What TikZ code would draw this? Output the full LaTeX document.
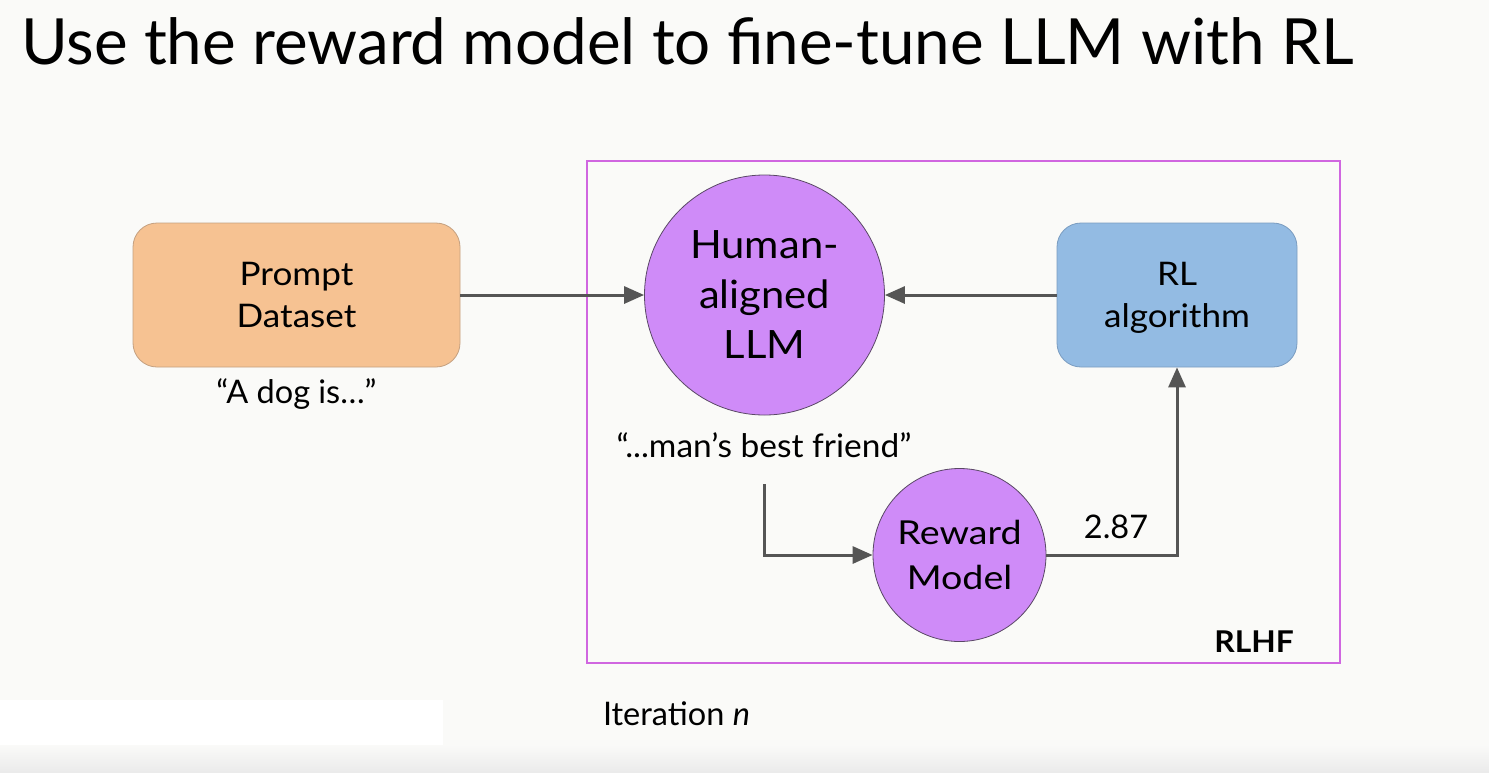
\documentclass[tikz,border=0pt]{standalone}
\usepackage{fontspec}
\setmainfont{Lato}
\newfontfamily\latoBox[FakeStretch=1.08]{Lato}
\newfontfamily\latoLLM[FakeStretch=1.07]{Lato}
\newfontfamily\latoRM[FakeStretch=1.14]{Lato}
\newfontfamily\latoResp[FakeStretch=1.03]{Lato}
\newfontfamily\latoTag[FakeStretch=1.06]{Lato}
\usetikzlibrary{arrows.meta}
\definecolor{bgc}{RGB}{250,250,248}
\definecolor{orangefill}{RGB}{246,194,146}
\definecolor{orangeedge}{RGB}{196,160,128}
\definecolor{purplefill}{RGB}{207,139,248}
\definecolor{purpleedge}{RGB}{90,72,102}
\definecolor{bluefill}{RGB}{147,187,227}
\definecolor{blueedge}{RGB}{122,156,192}
\definecolor{framec}{RGB}{208,102,224}
\definecolor{arrowc}{RGB}{85,85,85}
\tikzset{
  boxnode/.style={rounded corners=24pt, minimum width=327pt, minimum height=144pt, line width=0.8pt, align=center, font=\latoBox\fontsize{32.5}{42}\selectfont, inner sep=0pt},
  circnode/.style={circle, fill=purplefill, draw=purpleedge, line width=0.8pt, align=center, inner sep=0pt},
  flow/.style={draw=arrowc, line width=3pt, -{Triangle[length=20pt,width=17pt]}},
  plaintext/.style={font=\fontsize{32.5}{40}\selectfont, inner sep=0pt}
}
\begin{document}
\begin{tikzpicture}[x=1pt,y=-1pt]
\useasboundingbox (0,0) rectangle (1489,772);
\fill[bgc] (0,0) rectangle (1489,772);
\fill[white] (0,700) rectangle (443,772);
\shade[top color=bgc, bottom color=black!8] (0,745) rectangle (1489,772);
% title
\node[anchor=base west, inner sep=0pt, font=\fontsize{63.7}{70}\selectfont] (title) at (21,64) {Use the reward model to fine-tune LLM with RL};
% frame
\draw[framec, line width=2pt] (587,161) rectangle (1340,663);
\node[anchor=base east, inner sep=0pt, font=\latoTag\fontsize{30}{36}\selectfont\bfseries] (rlhf) at (1294,652) {RLHF};
% nodes
\node[boxnode, fill=orangefill, draw=orangeedge] (prompt) at (296.5,295) {Prompt\\Dataset};
\node[plaintext, anchor=base] (dog) at (296.5,403) {“A dog is…”};
\node[circnode, minimum size=240pt, font=\latoLLM\fontsize{39}{50}\selectfont] (llm) at (764.5,295) {Human-\\aligned\\LLM};
\node[boxnode, minimum width=240pt, fill=bluefill, draw=blueedge] (rl) at (1177,295) {RL\\\raisebox{0pt}[\height][0pt]{algorithm}};
\node[plaintext, font=\latoResp\fontsize{32.5}{40}\selectfont, anchor=base] (resp) at (764,457) {“...man’s best friend”};
\coordinate (respout) at (764,484);
\node[circnode, minimum size=173pt, font=\latoRM\fontsize{33}{45}\selectfont] (rm) at (959.5,555) {Reward\\Model};
\node[plaintext, anchor=base] (score) at (1116,538) {2.87};
\node[plaintext, anchor=base] (iter) at (676.5,725) {Iteration \textit{n}};
% connectors
\draw[flow] (prompt.east) -- (llm.west);
\draw[flow] (rl.west) -- (llm.east);
\draw[flow] (respout) |- (rm.west);
\draw[flow] (rm.east) -| (rl.south);
\end{tikzpicture}
\end{document}
